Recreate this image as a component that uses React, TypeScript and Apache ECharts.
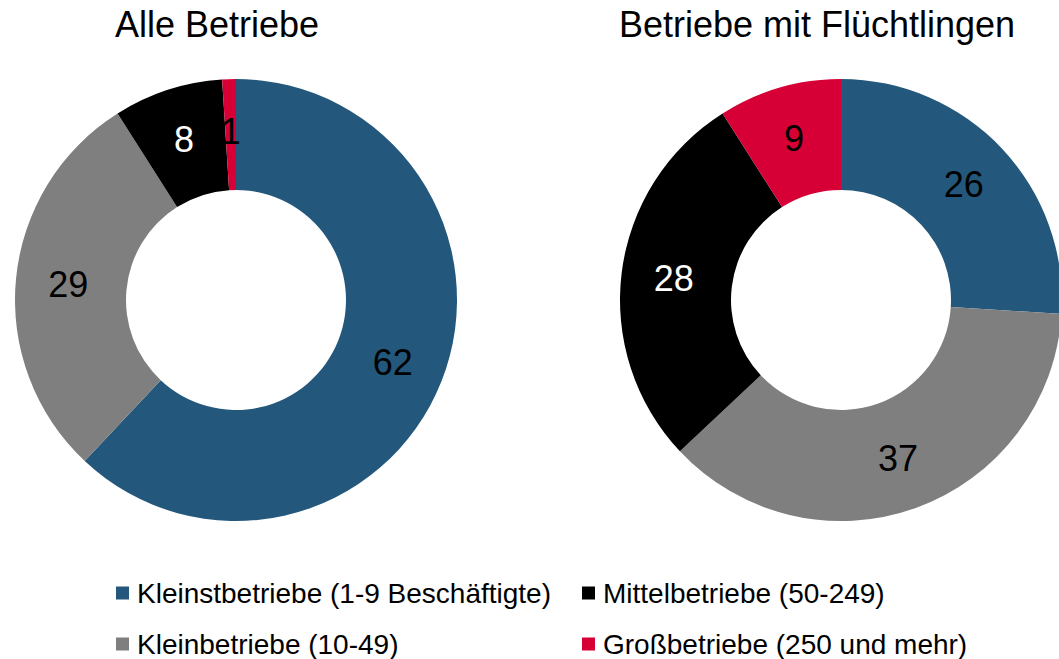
import React, { useEffect, useRef } from "react";
import * as echarts from "echarts";

const categories = [
  "Kleinstbetriebe (1-9 Beschäftigte)",
  "Kleinbetriebe (10-49)",
  "Mittelbetriebe (50-249)",
  "Großbetriebe (250 und mehr)",
];
const colors = ["#23577b", "#7f7f7f", "#000000", "#d70036"];
const labelColors = ["#000000", "#000000", "#ffffff", "#000000"];
const alleBetriebe = [62, 29, 8, 1];
const betriebeFluechtlinge = [26, 37, 28, 9];
const titles = ["Alle Betriebe", "Betriebe mit Flüchtlingen"];

const FONT = "'Liberation Sans', Arial, sans-serif";

// legend slot positions (column left, row top) for each category
const legendLeft = [116, 116, 582, 582];
const legendTop = [579, 630, 579, 630];

function makeData(values: number[]) {
  return values.map((v, i) => ({
    name: categories[i],
    value: v,
    itemStyle: { color: colors[i] },
    label: { color: labelColors[i] },
  }));
}

export default function App() {
  const ref = useRef<HTMLDivElement>(null);
  useEffect(() => {
    document.body.style.margin = "0";
    if (!ref.current) return;
    const chart = echarts.init(ref.current, null, { renderer: "svg" });
    const pieBase = {
      type: "pie" as const,
      radius: [110, 221],
      startAngle: 90,
      clockwise: true,
      avoidLabelOverlap: false,
      label: {
        show: true,
        position: "inside",
        formatter: "{c}",
        fontSize: 36,
        fontFamily: FONT,
      },
      labelLine: { show: false },
      emphasis: { disabled: true },
    };
    chart.setOption({
      animation: false,
      backgroundColor: "#ffffff",
      title: [
        {
          text: titles[0],
          left: 212,
          top: 1,
          textAlign: "center",
          textStyle: { fontSize: 36, fontWeight: "normal", color: "#000", fontFamily: FONT },
        },
        {
          text: titles[1],
          left: 812,
          top: 1,
          textAlign: "center",
          textStyle: { fontSize: 36, fontWeight: "normal", color: "#000", fontFamily: FONT },
        },
      ],
      legend: categories.map((c, i) => ({
        data: [c],
        orient: "horizontal",
        left: legendLeft[i],
        top: legendTop[i],
        icon: "rect",
        itemWidth: 13,
        itemHeight: 13,
        selectedMode: false,
        padding: 0,
        textStyle: { fontSize: 28, color: "#000", fontFamily: FONT, padding: [0, 0, 0, 3] },
      })),
      series: [
        { ...pieBase, name: titles[0], center: [236, 300], data: makeData(alleBetriebe) },
        { ...pieBase, name: titles[1], center: [841, 300], data: makeData(betriebeFluechtlinge) },
      ],
    });
    return () => chart.dispose();
  }, []);
  return <div ref={ref} style={{ width: 1059, height: 659 }} />;
}
